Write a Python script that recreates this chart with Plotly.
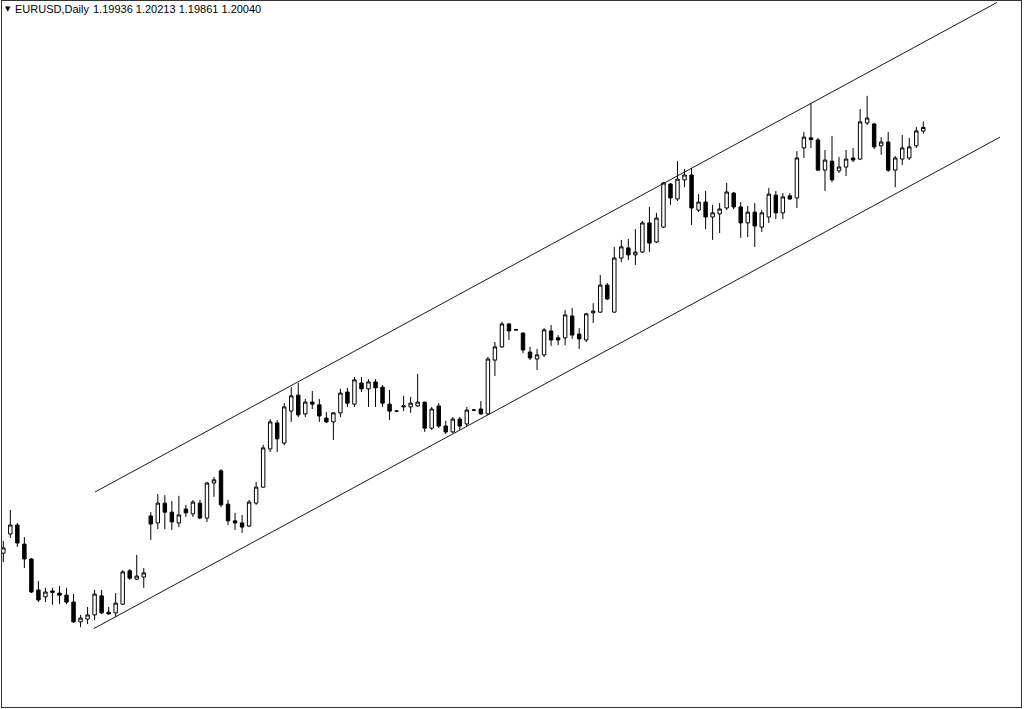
import plotly.graph_objects as go

# EURUSD daily candles
opens = [1.0778, 1.0833, 1.0859, 1.0804, 1.0761, 1.0672, 1.0652, 1.0669, 1.0663, 1.0657,
         1.0637, 1.0580, 1.0588, 1.0600, 1.0655, 1.0608, 1.0606, 1.0631, 1.0727, 1.0703,
         1.0709, 1.0885, 1.0865, 1.0922, 1.0896, 1.0865, 1.0905, 1.0891, 1.0922, 1.0879,
         1.0980, 1.1015, 1.0919, 1.0871, 1.0865, 1.0856, 1.0922, 1.0968, 1.1078, 1.1153,
         1.1095, 1.1187, 1.1233, 1.1179, 1.1213, 1.1205, 1.1167, 1.1156, 1.1182, 1.1242,
         1.1207, 1.1268, 1.1251, 1.1271, 1.1256, 1.1207, 1.1187, 1.1199, 1.1199, 1.1202,
         1.1213, 1.1138, 1.1202, 1.1144, 1.1127, 1.1164, 1.1150, 1.1190, 1.1193, 1.1179,
         1.1334, 1.1372, 1.1438, 1.1421, 1.1412, 1.1357, 1.1337, 1.1349, 1.1418, 1.1398,
         1.1398, 1.1461, 1.1409, 1.1392, 1.1470, 1.1472, 1.1550, 1.1472, 1.1628, 1.1657,
         1.1637, 1.1645, 1.1729, 1.1674, 1.1717, 1.1841, 1.1798, 1.1853, 1.1867, 1.1766,
         1.1789, 1.1746, 1.1755, 1.1772, 1.1815, 1.1775, 1.1729, 1.1760, 1.1717, 1.1746,
         1.1809, 1.1758, 1.1807, 1.1801, 1.1945, 1.1974, 1.1968, 1.1881, 1.1907, 1.1879,
         1.1890, 1.1916, 1.1913, 1.2017, 1.2014, 1.1951, 1.1962, 1.1881, 1.1913, 1.1916,
         1.1951, 1.19936]
highs = [1.0813, 1.0902, 1.0865, 1.0824, 1.0764, 1.0698, 1.0678, 1.0678, 1.0683, 1.0678,
         1.0660, 1.0600, 1.0623, 1.0672, 1.0672, 1.0623, 1.0663, 1.0729, 1.0732, 1.0773,
         1.0735, 1.0896, 1.0948, 1.0945, 1.0928, 1.0943, 1.0917, 1.0931, 1.0931, 1.0983,
         1.0997, 1.1020, 1.0931, 1.0894, 1.0888, 1.0931, 1.0983, 1.1090, 1.1164, 1.1161,
         1.1210, 1.1256, 1.1268, 1.1222, 1.1245, 1.1222, 1.1184, 1.1184, 1.1251, 1.1254,
         1.1285, 1.1285, 1.1279, 1.1279, 1.1262, 1.1248, 1.1190, 1.1231, 1.1228, 1.1294,
         1.1213, 1.1199, 1.1210, 1.1159, 1.1170, 1.1170, 1.1199, 1.1193, 1.1216, 1.1343,
         1.1386, 1.1444, 1.1441, 1.1422, 1.1412, 1.1372, 1.1366, 1.1426, 1.1435, 1.1406,
         1.1478, 1.1484, 1.1426, 1.1470, 1.1498, 1.1579, 1.1556, 1.1660, 1.1680, 1.1683,
         1.1711, 1.1735, 1.1775, 1.1758, 1.1847, 1.1844, 1.1907, 1.1884, 1.1887, 1.1812,
         1.1821, 1.1781, 1.1786, 1.1844, 1.1818, 1.1789, 1.1778, 1.1786, 1.1766, 1.1830,
         1.1821, 1.1815, 1.1815, 1.1936, 1.1991, 1.2074, 1.1974, 1.1939, 1.1979, 1.1919,
         1.1939, 1.1945, 1.2057, 1.2095, 1.2017, 1.1976, 1.1991, 1.1922, 1.1982, 1.1974,
         1.2005, 1.20213]
lows = [1.0752, 1.0822, 1.0796, 1.0735, 1.0663, 1.0637, 1.0637, 1.0629, 1.0631, 1.0631,
        1.0577, 1.0565, 1.0574, 1.0585, 1.0603, 1.0600, 1.0594, 1.0629, 1.0701, 1.0701,
        1.0678, 1.0816, 1.0847, 1.0847, 1.0845, 1.0853, 1.0882, 1.0882, 1.0876, 1.0868,
        1.0940, 1.0911, 1.0859, 1.0845, 1.0836, 1.0853, 1.0917, 1.0966, 1.1069, 1.1069,
        1.1089, 1.1156, 1.1170, 1.1170, 1.1193, 1.1156, 1.1153, 1.1104, 1.1170, 1.1199,
        1.1199, 1.1242, 1.1199, 1.1199, 1.1199, 1.1161, 1.1184, 1.1187, 1.1182, 1.1199,
        1.1127, 1.1133, 1.1138, 1.1121, 1.1124, 1.1133, 1.1144, 1.1187, 1.1176, 1.1176,
        1.1288, 1.1369, 1.1392, 1.1420, 1.1354, 1.1334, 1.1305, 1.1343, 1.1375, 1.1377,
        1.1377, 1.1395, 1.1366, 1.1386, 1.1441, 1.1470, 1.1507, 1.1471, 1.1616, 1.1622,
        1.1608, 1.1642, 1.1645, 1.1671, 1.1714, 1.1781, 1.1792, 1.1832, 1.1723, 1.1760,
        1.1711, 1.1680, 1.1700, 1.1766, 1.1769, 1.1686, 1.1688, 1.1660, 1.1703, 1.1729,
        1.1740, 1.1740, 1.1795, 1.1772, 1.1916, 1.1945, 1.1880, 1.1821, 1.1847, 1.1873,
        1.1864, 1.1904, 1.1910, 1.2011, 1.1942, 1.1925, 1.1876, 1.1832, 1.1896, 1.1910,
        1.1945, 1.19861]
closes = [1.0793, 1.0859, 1.0807, 1.0761, 1.0666, 1.0643, 1.0666, 1.0665, 1.0657, 1.0637,
          1.0580, 1.0591, 1.0600, 1.0660, 1.0606, 1.0603, 1.0634, 1.0724, 1.0706, 1.0712,
          1.0721, 1.0862, 1.0922, 1.0896, 1.0868, 1.0888, 1.0894, 1.0925, 1.0879, 1.0980,
          1.0989, 1.0917, 1.0871, 1.0865, 1.0853, 1.0925, 1.0968, 1.1081, 1.1156, 1.1107,
          1.1199, 1.1231, 1.1176, 1.1213, 1.1207, 1.1173, 1.1156, 1.1182, 1.1239, 1.1210,
          1.1277, 1.1251, 1.1271, 1.1254, 1.1210, 1.1187, 1.1187, 1.1202, 1.1210, 1.1213,
          1.1138, 1.1193, 1.1144, 1.1127, 1.1164, 1.1144, 1.1190, 1.1190, 1.1179, 1.1337,
          1.1372, 1.1438, 1.1418, 1.1421, 1.1363, 1.1340, 1.1349, 1.1421, 1.1392, 1.1392,
          1.1464, 1.1406, 1.1395, 1.1467, 1.1475, 1.1550, 1.1510, 1.1628, 1.1660, 1.1637,
          1.1645, 1.1729, 1.1671, 1.1743, 1.1844, 1.1801, 1.1855, 1.1867, 1.1772, 1.1789,
          1.1746, 1.1758, 1.1769, 1.1818, 1.1775, 1.1729, 1.1760, 1.1720, 1.1758, 1.1812,
          1.1758, 1.1804, 1.1798, 1.1916, 1.1976, 1.1969, 1.1881, 1.1910, 1.1853, 1.1890,
          1.1913, 1.1910, 1.2020, 1.2031, 1.1948, 1.1962, 1.1881, 1.1916, 1.1945, 1.1948,
          1.1994, 1.20040]
bar_index = list(range(len(opens)))

# Channel anchors (bar index, price)
upper_x = [13.06, 141.49]
upper_y = [1.0954, 1.2364]
lower_x = [12.92, 141.92]
lower_y = [1.0561, 1.1976]

symbol_label = "EURUSD,Daily"
ohlc_label = "1.19936 1.20213 1.19861 1.20040"

fig = go.Figure()
fig.add_trace(go.Candlestick(
    x=bar_index, open=opens, high=highs, low=lows, close=closes,
    increasing=dict(fillcolor="#ffffff", line=dict(color="#000000", width=1)),
    decreasing=dict(fillcolor="#000000", line=dict(color="#000000", width=1)),
    whiskerwidth=0, showlegend=False, hoverinfo="skip",
))
for xs, ys in ((upper_x, upper_y), (lower_x, lower_y)):
    fig.add_trace(go.Scatter(x=xs, y=ys, mode="lines",
                             line=dict(color="#1a1a1a", width=1),
                             showlegend=False, hoverinfo="skip"))

fig.update_layout(
    width=1024, height=709,
    margin=dict(l=2, r=3, t=1, b=2),
    paper_bgcolor="#ffffff", plot_bgcolor="#ffffff",
    boxgap=0.3,
    xaxis=dict(range=[-0.185, 144.91], showgrid=False, zeroline=False,
               showticklabels=False, ticks="", showline=True, mirror=True,
               linecolor="#333333", linewidth=1, rangeslider=dict(visible=False)),
    yaxis=dict(range=[1.033484, 1.236812], showgrid=False, zeroline=False,
               showticklabels=False, ticks="", showline=True, mirror=True,
               linecolor="#333333", linewidth=1),
    annotations=[
        dict(text="\u25bc", xref="paper", yref="paper", x=0.0005, y=0.9885,
             xanchor="left", yanchor="middle", showarrow=False,
             font=dict(family="DejaVu Sans", size=7, color="#000000")),
        dict(text=symbol_label, xref="paper", yref="paper", x=0.0112, y=0.9885,
             xanchor="left", yanchor="middle", showarrow=False,
             font=dict(family="Liberation Sans", size=11, color="#000000")),
        dict(text=ohlc_label, xref="paper", yref="paper", x=0.0877, y=0.9885,
             xanchor="left", yanchor="middle", showarrow=False,
             font=dict(family="Liberation Sans", size=11, color="#000000")),
    ],
)

fig.write_html("out.html", config={"displayModeBar": False},
               post_script="document.body.style.margin='0';document.body.style.overflow='hidden';")
